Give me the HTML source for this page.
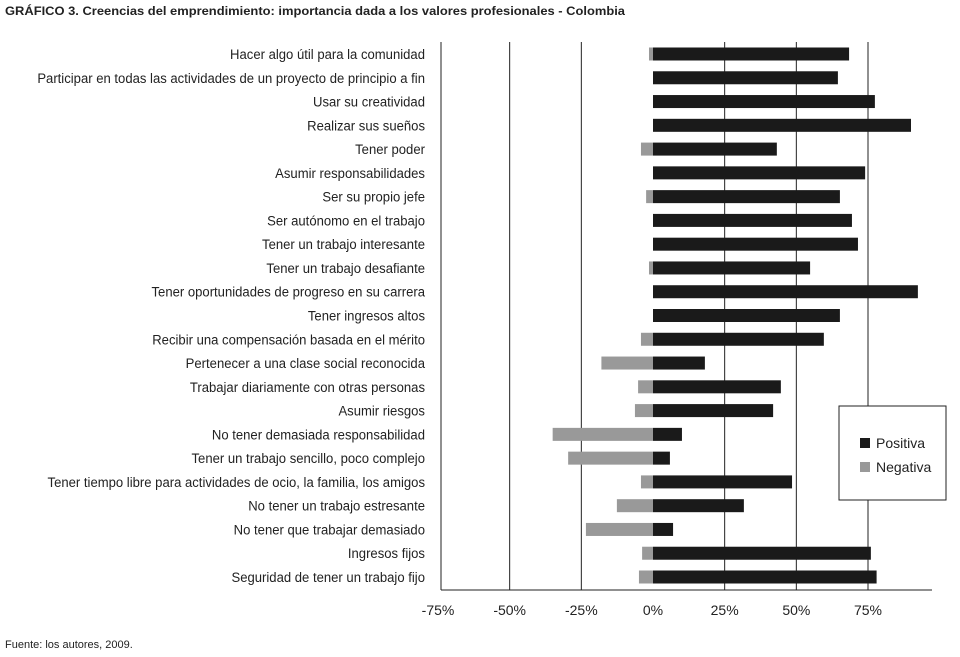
<!DOCTYPE html>
<html><head><meta charset="utf-8"><style>
body{margin:0;background:#fff;}
svg text{font-family:"Liberation Sans",sans-serif;}
</style></head><body>
<svg id="chart" width="960" height="652" xmlns="http://www.w3.org/2000/svg">
<text x="5" y="15" font-size="12" font-weight="bold" fill="#222" textLength="620" lengthAdjust="spacingAndGlyphs">GRÁFICO 3. Creencias del emprendimiento: importancia dada a los valores profesionales - Colombia</text>
<text x="5" y="648" font-size="11" fill="#222">Fuente: los autores, 2009.</text>
<g id="grid"></g><g id="bars"></g><g id="labels" transform="translate(425,0) scale(0.935,1) translate(-425,0)"></g><g id="ticks"></g>
<g>
<rect x="839" y="406" width="107" height="94" fill="#fff" stroke="#222" stroke-width="1"/>
<rect x="860" y="438" width="10" height="10" fill="#1a1a1a"/>
<text x="876" y="448" font-size="14" fill="#222">Positiva</text>
<rect x="860" y="462" width="10" height="10" fill="#999"/>
<text x="876" y="472" font-size="14" fill="#222">Negativa</text>
</g>
</svg>
<script>
const categories=["Hacer algo útil para la comunidad","Participar en todas las actividades de un proyecto de principio a fin","Usar su creatividad","Realizar sus sueños","Tener poder","Asumir responsabilidades","Ser su propio jefe","Ser autónomo en el trabajo","Tener un trabajo interesante","Tener un trabajo desafiante","Tener oportunidades de progreso en su  carrera","Tener ingresos altos","Recibir una compensación basada en el mérito","Pertenecer a una clase social reconocida","Trabajar diariamente con otras personas","Asumir riesgos","No tener demasiada responsabilidad","Tener un trabajo sencillo, poco complejo","Tener tiempo libre para actividades de ocio, la familia, los amigos","No tener un trabajo estresante","No tener que trabajar demasiado","Ingresos fijos","Seguridad de tener un trabajo fijo"];
const positiva=[68.4,64.5,77.4,90,43.2,74,65.2,69.4,71.5,54.8,92.4,65.2,59.6,18.1,44.6,41.9,10.1,5.9,48.5,31.7,7,76,78];
const negativa=[-1.4,0,0,0,-4.2,0,-2.4,0,0,-1.4,0,0,-4.2,-18,-5.2,-6.3,-35,-29.6,-4.2,-12.6,-23.4,-3.8,-4.9];
const tickValues=[-75,-50,-25,0,25,50,75];
const tickLabels=["-75%","-50%","-25%","0%","25%","50%","75%"];
const NS="http://www.w3.org/2000/svg";
const x=v=>653+v*215/75;
const y=i=>54+i*(577-54)/22;
function mk(tag,attrs,parent){const e=document.createElementNS(NS,tag);for(const k in attrs)e.setAttribute(k,attrs[k]);document.getElementById(parent).appendChild(e);return e;}
tickValues.forEach((v,i)=>{
 if(v!==0&&v!==-75){const l=mk('line',{x1:x(v),x2:x(v),y1:42,y2:590,stroke:'#222','stroke-width':1},'grid');
 
 }
 const t=mk('text',{x:x(v),y:615,'font-size':14,'text-anchor':'middle',fill:'#222'},'ticks');t.textContent=tickLabels[i];
 
 
});
const ax=mk('line',{x1:441,x2:441,y1:42,y2:590,stroke:'#222','stroke-width':1},'grid');


const bx=mk('line',{x1:441,x2:932,y1:590,y2:590,stroke:'#222','stroke-width':1},'grid');


categories.forEach((c,i)=>{
 const cy=y(i);
 if(negativa[i]<0){const r=mk('rect',{x:x(negativa[i]),y:cy-6.5,width:x(0)-x(negativa[i]),height:13,fill:'#999'},'bars');
 
 }
 const p=mk('rect',{x:x(0),y:cy-6.5,width:x(positiva[i])-x(0),height:13,fill:'#1a1a1a'},'bars');
 
 
 const t=mk('text',{x:425,y:cy+5,'font-size':14,'text-anchor':'end',fill:'#222'},'labels');t.textContent=c;
 
 
});
</script>
</body></html>
